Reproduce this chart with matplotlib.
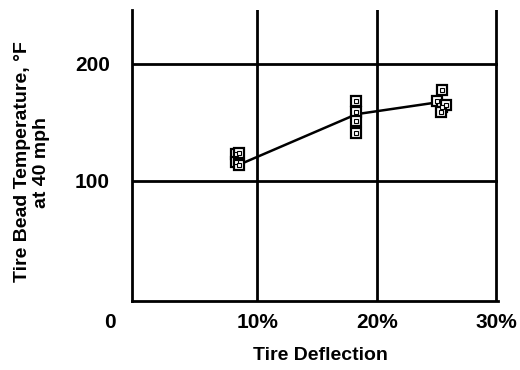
import matplotlib
matplotlib.use("Agg")
import matplotlib.pyplot as plt

plt.rcParams['font.family'] = ['Liberation Sans', 'DejaVu Sans']
plt.rcParams['font.weight'] = 'bold'

# measured points (tire deflection %, bead temperature F)
defl_pts = [8.2, 8.2, 8.5, 8.5,
            18.3, 18.3, 18.3, 18.3,
            25.5, 25.0, 25.5, 25.8, 25.4]
temp_pts = [123, 116, 124, 114,
            168, 159, 151, 141,
            178, 168, 163, 165, 159]

# fitted curve
defl_line = [8.5, 18.3, 25.0]
temp_line = [114, 157, 167]

x_ticks = [10, 20, 30]
x_labels = ['10%', '20%', '30%']
y_ticks = [100, 200]
y_labels = ['100', '200']

fig = plt.figure(figsize=(5.2, 3.7), dpi=100)
ax = fig.add_axes([132/520, 1 - 301/370, 366/520, 291/370])

ax.plot(defl_line, temp_line, color='black', lw=1.8, zorder=3)
ax.plot(defl_pts, temp_pts, ls='none', marker='s', ms=7, mfc='white',
        mec='black', mew=1.6, zorder=4)
ax.plot(defl_pts, temp_pts, ls='none', marker='s', ms=2.5, mfc='white',
        mec='black', mew=0.8, zorder=5)

for x in x_ticks:
    ax.axvline(x, color='black', lw=2, zorder=1)
for y in y_ticks:
    ax.axhline(y, color='black', lw=2, zorder=1)

ax.set_xlim(-0.5, 30.15)
ax.set_ylim(-2.6, 246)
ax.set_xticks(x_ticks)
ax.set_xticklabels(x_labels, fontsize=15, fontweight='bold')
ax.set_yticks(y_ticks)
ax.set_yticklabels(y_labels, fontsize=15, fontweight='bold')
ax.tick_params(length=0)
ax.tick_params(axis='x', pad=9)
ax.tick_params(axis='y', pad=16)

for s in ['top', 'right']:
    ax.spines[s].set_visible(False)
for s in ['left', 'bottom']:
    ax.spines[s].set_linewidth(2)

fig.text(110/520, 1 - 322/370, '0', fontsize=15, fontweight='bold',
         ha='center', va='center')
fig.text(320/520, 1 - 355/370, 'Tire Deflection', fontsize=14,
         fontweight='bold', ha='center', va='center')
fig.text(32/520, 1 - 162/370, 'Tire Bead Temperature, \u00b0F\nat 40 mph',
         fontsize=14, fontweight='bold', rotation=90, ha='center',
         va='center', linespacing=1.1)

fig.savefig('out.png', dpi=100)
